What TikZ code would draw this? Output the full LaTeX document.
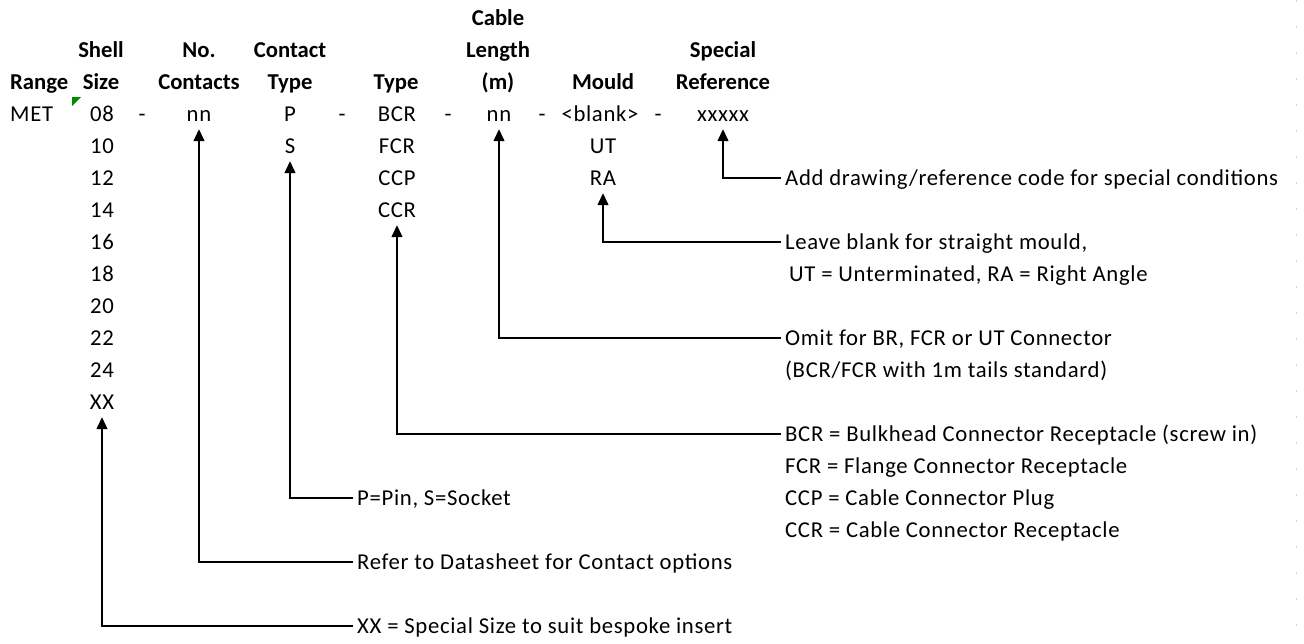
\documentclass[tikz,border=0pt]{standalone}
\usepackage{fontspec}
\setmainfont{Carlito}
\newfontfamily\cellfont{Carlito}[LetterSpace=3]
\usetikzlibrary{arrows.meta}
\begin{document}
\begin{tikzpicture}[x=1pt,y=-1pt,
    cell_node/.style={font=\fontsize{22.7pt}{27pt}\cellfont,text height=16pt,text depth=2pt,inner xsep=0pt,inner ysep=6pt},
    head_node/.style={cell_node,font=\fontsize{22.7pt}{27pt}\selectfont\rmfamily\bfseries},
    note_node/.style={cell_node,anchor=west,inner xsep=4pt,inner ysep=0pt},
    pointer/.style={line width=1.4pt,-{Triangle[width=11pt,length=12pt]}}]
    \useasboundingbox (0,0) rectangle (1304,643);
    \draw[gray!35,line width=0.8pt,dash pattern=on 1.5pt off 24.5pt] (1296,0) -- (1296,643);
    \node[head_node,anchor=west] (range) at (10,82) {Range};
    \node[head_node] (shell) at (101,50) {Shell};
    \node[head_node] (size) at (101,82) {Size};
    \node[head_node] (no) at (199,50) {No.};
    \node[head_node] (contacts) at (199,82) {Contacts};
    \node[head_node] (contact) at (290,50) {Contact};
    \node[head_node] (ctype) at (290,82) {Type};
    \node[head_node] (type) at (396,82) {Type};
    \node[head_node] (cable) at (498,18) {Cable};
    \node[head_node] (length) at (498,50) {Length};
    \node[head_node] (metre) at (498,82) {(m)};
    \node[head_node] (mould) at (603,82) {Mould};
    \node[head_node] (special) at (723,50) {Special};
    \node[head_node] (reference) at (723,82) {Reference};
    \node[cell_node,anchor=west] (met) at (10,114) {MET};
    \fill[green!55!black] (72,97) -- (81,97) -- (72,106) -- cycle;
    \node[cell_node] (sz08) at (102,114) {08};
    \node[cell_node] (sz10) at (102,146) {10};
    \node[cell_node] (sz12) at (102,178) {12};
    \node[cell_node] (sz14) at (102,210) {14};
    \node[cell_node] (sz16) at (102,242) {16};
    \node[cell_node] (sz18) at (102,274) {18};
    \node[cell_node] (sz20) at (102,306) {20};
    \node[cell_node] (sz22) at (102,338) {22};
    \node[cell_node] (sz24) at (102,370) {24};
    \node[cell_node] (szXX) at (102,402) {XX};
    \node[cell_node] (dash1) at (142,114) {-};
    \node[cell_node] (nncont) at (199,114) {nn};
    \node[cell_node] (pin) at (290,114) {P};
    \node[cell_node] (sock) at (290,146) {S};
    \node[cell_node] (dash2) at (342,114) {-};
    \node[cell_node] (bcr) at (397,114) {BCR};
    \node[cell_node] (fcr) at (397,146) {FCR};
    \node[cell_node] (ccp) at (397,178) {CCP};
    \node[cell_node] (ccr) at (397,210) {CCR};
    \node[cell_node] (dash3) at (448,114) {-};
    \node[cell_node] (nnlen) at (499,114) {nn};
    \node[cell_node] (dash4) at (542,114) {-};
    \node[cell_node] (blank) at (600,114) {<blank>};
    \node[cell_node] (ut) at (603,146) {UT};
    \node[cell_node] (ra) at (603,178) {RA};
    \node[cell_node] (dash5) at (658,114) {-};
    \node[cell_node] (xref) at (723,114) {xxxxx};
    \node[note_node] (add) at (781,178) {Add drawing/reference code for special conditions};
    \node[note_node] (leave) at (781,242) {Leave blank for straight mould,};
    \node[note_node] (leave2) at (785,274) {UT = Unterminated, RA = Right Angle};
    \node[note_node] (omit) at (781,338) {Omit for BR, FCR or UT Connector};
    \node[note_node] (omit2) at (781,370) {(BCR/FCR with 1m tails standard)};
    \node[note_node] (bcrnote) at (781,434) {BCR = Bulkhead Connector Receptacle (screw in)};
    \node[note_node] (fcrnote) at (781,466) {FCR = Flange Connector Receptacle};
    \node[note_node] (ccpnote) at (781,498) {CCP = Cable Connector Plug};
    \node[note_node] (ccrnote) at (781,530) {CCR = Cable Connector Receptacle};
    \node[note_node] (pinnote) at (353,498) {P=Pin, S=Socket};
    \node[note_node] (refer) at (353,562) {Refer to Datasheet for Contact options};
    \node[note_node] (xxnote) at (353,626) {XX = Special Size to suit bespoke insert};
    \draw[pointer] (add.west) -| (xref.south);
    \draw[pointer] (leave.west) -| (ra.south);
    \draw[pointer] (omit.west) -| (nnlen.south);
    \draw[pointer] (bcrnote.west) -| (ccr.south);
    \draw[pointer] (pinnote.west) -| (sock.south);
    \draw[pointer] (refer.west) -| (nncont.south);
    \draw[pointer] (xxnote.west) -| (szXX.south);
\end{tikzpicture}
\end{document}
